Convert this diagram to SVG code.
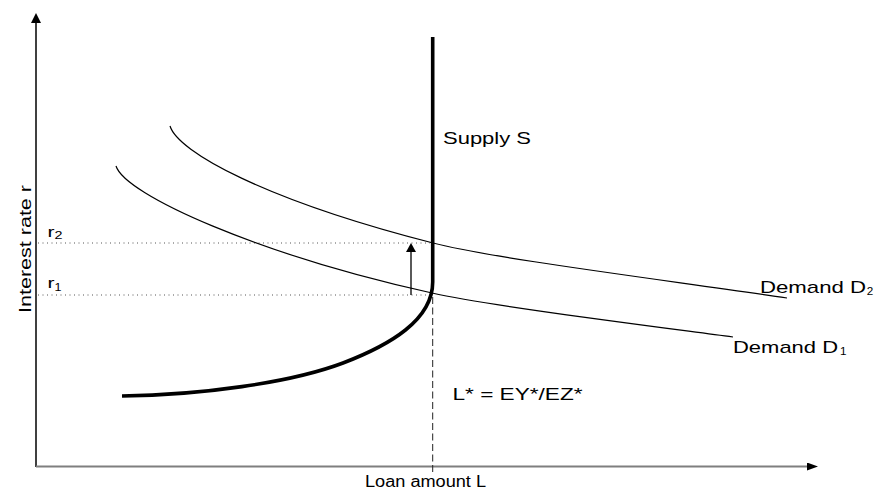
<svg xmlns="http://www.w3.org/2000/svg" width="877" height="490" viewBox="0 0 877 490">
<style>
  text { font-family: "Liberation Sans", Arial, sans-serif; fill: #000; }
  .lbl { font-size: 16px; }
  .big { font-size: 17px; }
  .sub { font-size: 11px; }
  .rl { font-size: 14px; }
  .rs { font-size: 11.5px; }
  .dem { fill: none; stroke: #000; stroke-width: 1.2; }
  .sup { fill: none; stroke: #000; stroke-width: 3.6; stroke-linecap: butt; }
  .dot { stroke: #555; stroke-width: 1; stroke-dasharray: 1 3.5; }
</style>
<defs>
  <marker id="headY" markerUnits="userSpaceOnUse" markerWidth="10" markerHeight="10" refX="0" refY="5" orient="auto">
    <path d="M0,0 L10,5 L0,10 Z" fill="#000"/>
  </marker>
  <marker id="headX" markerUnits="userSpaceOnUse" markerWidth="11" markerHeight="8" refX="0" refY="4" orient="auto">
    <path d="M0,0 L11,4 L0,8 Z" fill="#000"/>
  </marker>
  <marker id="headShift" markerUnits="userSpaceOnUse" markerWidth="9" markerHeight="10" refX="0" refY="5" orient="auto">
    <path d="M0,0 L9,5 L0,10 Z" fill="#000"/>
  </marker>
</defs>

<g id="axes">
  <line x1="36" y1="467" x2="36" y2="23" stroke="#000" stroke-width="1.5" marker-end="url(#headY)"/>
  <line x1="36" y1="466.5" x2="807" y2="466.5" stroke="#7f7f7f" stroke-width="2" marker-end="url(#headX)"/>
  <text class="lbl" transform="translate(31,249) rotate(-90)" text-anchor="middle" textLength="128" lengthAdjust="spacingAndGlyphs">Interest rate r</text>
  <text class="lbl" x="365" y="487" textLength="121" lengthAdjust="spacingAndGlyphs">Loan amount L</text>
</g>

<g id="guides">
  <line class="dot" x1="38" y1="243" x2="430" y2="243"/>
  <line class="dot" x1="38" y1="295" x2="430" y2="295"/>
  <line x1="432.7" y1="297" x2="432.7" y2="473" stroke="#222" stroke-width="1" stroke-dasharray="7 3.5"/>
  <text class="rl" x="47.5" y="236.7" textLength="7" lengthAdjust="spacingAndGlyphs">r</text>
  <text class="rs" x="54.5" y="238.5" textLength="8" lengthAdjust="spacingAndGlyphs">2</text>
  <text class="rl" x="47.5" y="287.7" textLength="7" lengthAdjust="spacingAndGlyphs">r</text>
  <text class="rs" x="54.5" y="290.5" textLength="7" lengthAdjust="spacingAndGlyphs">1</text>
</g>

<g id="demand-d1">
  <path class="dem" d="M116,166 C125,195 260,255 432,293 C487,305.2 620,322 733,337"/>
  <text class="big" x="733" y="353" textLength="105" lengthAdjust="spacingAndGlyphs">Demand D</text>
  <text class="sub" x="840" y="354.5" textLength="6.5" lengthAdjust="spacingAndGlyphs">1</text>
</g>

<g id="demand-d2">
  <path class="dem" d="M170,126 C178,152 265,200 433,243 C493,258.4 650,278 787,298"/>
  <text class="big" x="760" y="293" textLength="106" lengthAdjust="spacingAndGlyphs">Demand D</text>
  <text class="sub" x="866.7" y="295" textLength="6.5" lengthAdjust="spacingAndGlyphs">2</text>
</g>

<g id="supply">
  <path class="sup" d="M432.7,37 V282 C432.7,320 390,345 343,363 C290,383 200,395 122,396"/>
  <text class="big" x="443" y="144" textLength="88" lengthAdjust="spacingAndGlyphs">Supply S</text>
  <text class="lbl" x="452.5" y="400" textLength="130" lengthAdjust="spacingAndGlyphs">L* = EY*/EZ*</text>
</g>

<g id="connectors">
  <line x1="411" y1="295" x2="411" y2="252" stroke="#000" stroke-width="1.3" marker-end="url(#headShift)"/>
</g>
</svg>
